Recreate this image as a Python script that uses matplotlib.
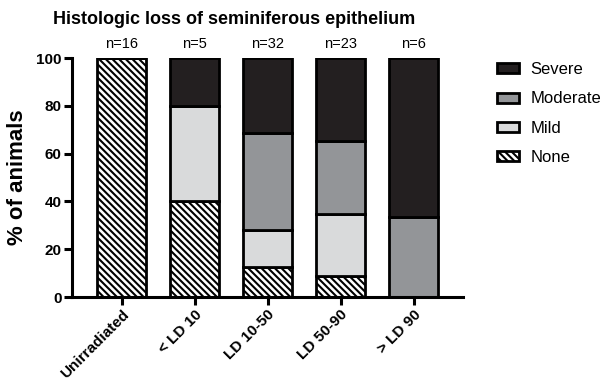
import matplotlib
matplotlib.use("Agg")
import matplotlib.pyplot as plt
import numpy as np

plt.rcParams['font.family'] = ['Liberation Sans', 'DejaVu Sans']
plt.rcParams['hatch.linewidth'] = 1.5

categories = ["Unirradiated", "< LD 10", "LD 10-50", "LD 50-90", "> LD 90"]
n_labels = ["n=16", "n=5", "n=32", "n=23", "n=6"]
none_pct = [100, 40, 12.5, 8.7, 0]
mild_pct = [0, 40, 15.6, 26.1, 0]
moderate_pct = [0, 0, 40.6, 30.4, 33.3]
severe_pct = [0, 20, 31.3, 34.8, 66.7]

fig = plt.figure(figsize=(6.0, 3.83), dpi=100)
ax = fig.add_axes([0.12, 0.2245, 0.652, 0.624])

x = np.arange(len(categories))
w = 0.67
ec = 'black'
lw = 2.0
bottom = np.zeros(len(categories))
h_none = ax.bar(x, none_pct, w, bottom=bottom, facecolor='white', edgecolor=ec, linewidth=lw, hatch='\\\\\\\\\\', label='None')
bottom += none_pct
h_mild = ax.bar(x, mild_pct, w, bottom=bottom, facecolor='#d9dadb', edgecolor=ec, linewidth=lw, label='Mild')
bottom += mild_pct
h_mod = ax.bar(x, moderate_pct, w, bottom=bottom, facecolor='#939598', edgecolor=ec, linewidth=lw, label='Moderate')
bottom += moderate_pct
h_sev = ax.bar(x, severe_pct, w, bottom=bottom, facecolor='#231f20', edgecolor=ec, linewidth=lw, label='Severe')

for xi, lab in zip(x, n_labels):
    ax.text(xi, 103, lab, ha='center', va='bottom', fontsize=10.5)

ax.set_xlim(-0.68, 4.68)
ax.set_ylim(0, 100)
ax.set_yticks([0, 20, 40, 60, 80, 100])
ax.set_xticks(x)
ax.set_xticklabels(categories, rotation=45, ha='right', rotation_mode='anchor', fontweight='bold', fontsize=11)
for t in ax.get_yticklabels():
    t.set_fontweight('bold')
    t.set_fontsize(11)
ax.tick_params(axis='both', width=2.2, length=5.5, direction='out', pad=2)
for s in ['top', 'right']:
    ax.spines[s].set_visible(False)
for s in ['left', 'bottom']:
    ax.spines[s].set_linewidth(2.2)
ax.set_ylabel('% of animals', fontsize=16, fontweight='bold', labelpad=6)

ax.legend(handles=[h_sev, h_mod, h_mild, h_none], labels=['Severe', 'Moderate', 'Mild', 'None'],
          loc='upper left', bbox_to_anchor=(1.07, 1.01), frameon=False, fontsize=12,
          handlelength=1.3, handleheight=0.55, handletextpad=0.7, labelspacing=0.85, borderaxespad=0)

fig.text(0.39, 0.97, 'Histologic loss of seminiferous epithelium', ha='center', va='top', fontsize=13, fontweight='bold')

fig.savefig('out.png', dpi=100)
